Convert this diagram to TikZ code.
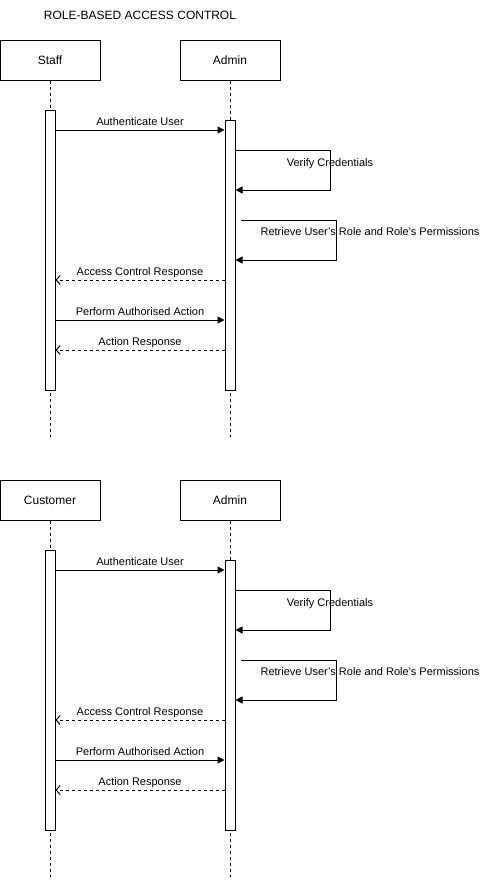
\documentclass[tikz,border=0pt]{standalone}
\usepackage{fontspec}
\setmainfont{Liberation Sans}
\usetikzlibrary{arrows.meta,calc}
\tikzset{
 actor/.style={draw, line width=1pt, minimum width=100pt, minimum height=40pt, inner sep=0pt, font=\fontsize{12}{14}\selectfont},
 actbar/.style={draw, fill=white, line width=1pt, minimum width=10pt, inner sep=0pt},
 life/.style={line width=1pt, dash pattern=on 3pt off 3pt},
 msg/.style={line width=1pt, -{Triangle[length=7pt,width=7pt]}},
 reply/.style={line width=1pt, dash pattern=on 3pt off 3pt, -{Straight Barb[length=4pt,width=9pt]}},
 lbl/.style={font=\fontsize{11}{13}\selectfont, text height=8pt, text depth=2pt, inner sep=0pt},
 ttl/.style={font=\fontsize{12}{14}\selectfont, inner sep=0pt},
}
\newcommand\rbacdiag[3]{%
\begin{scope}[shift={(0,#3)}]
\node[actor] (#1u) at (50,60) {#2};
\node[actor] (#1a) at (230,60) {Admin};
\coordinate (#1ue) at (50,437);
\coordinate (#1ae) at (230,437);
\draw[life] (#1u.south) -- (#1ue);
\draw[life] (#1a.south) -- (#1ae);
\node[actbar, minimum height=280pt] (#1ub) at (50,250) {};
\node[actbar, minimum height=270pt] (#1ab) at (230,255) {};
\coordinate (#1y1) at (0,130);
\coordinate (#1y2) at (0,150);
\coordinate (#1y3) at (0,190);
\coordinate (#1y4) at (0,220);
\coordinate (#1y5) at (0,260);
\coordinate (#1y6) at (0,280);
\coordinate (#1y7) at (0,320);
\coordinate (#1y8) at (0,350);
\coordinate (#1c1) at (330,0);
\coordinate (#1c2) at (336,0);
\draw[msg] (#1ub.east |- #1y1) -- node[lbl, midway, yshift=8pt] {Authenticate User} (#1ab.west |- #1y1);
\draw[msg] (#1ab.east |- #1y2) -- (#1c1 |- #1y2) -- (#1c1 |- #1y3) -- (#1ab.east |- #1y3);
\node[lbl] at (330,163) {Verify Credentials};
\draw[msg] ($(#1ab.east |- #1y4)+(5,0)$) -- (#1c2 |- #1y4) -- (#1c2 |- #1y5) -- (#1ab.east |- #1y5);
\node[lbl] at (370,232) {Retrieve User's Role and Role's Permissions};
\draw[reply] (#1ab.west |- #1y6) -- node[lbl, midway, yshift=8pt] {Access Control Response} (#1ub.east |- #1y6);
\draw[msg] (#1ub.east |- #1y7) -- node[lbl, midway, yshift=8pt] {Perform Authorised Action} (#1ab.west |- #1y7);
\draw[reply] (#1ab.west |- #1y8) -- node[lbl, midway, yshift=8pt] {Action Response} (#1ub.east |- #1y8);
\end{scope}}
\begin{document}
\begin{tikzpicture}[x=1pt,y=-1pt]
\useasboundingbox (0,0) rectangle (480,881);
\node[ttl] (title) at (140,15) {ROLE-BASED ACCESS CONTROL};
\rbacdiag{s}{Staff}{0}
\rbacdiag{c}{Customer}{440}
\end{tikzpicture}
\end{document}
